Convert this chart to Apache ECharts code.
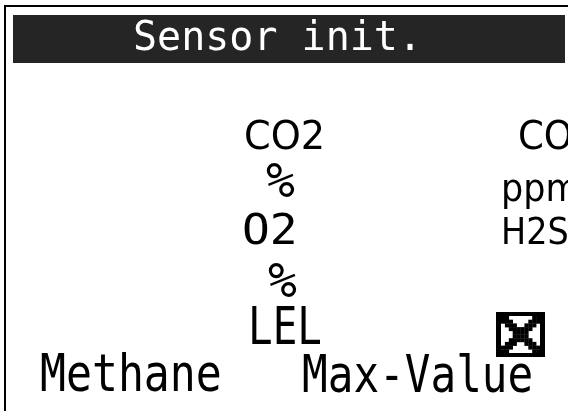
<!DOCTYPE html>
<html>
<head>
<meta charset="utf-8">
<script src="https://cdn.jsdelivr.net/npm/echarts@6/dist/echarts.min.js"></script>
<style>
  html, body { margin: 0; padding: 0; background: #fff; }
  #main { width: 568px; height: 411px; }
</style>
</head>
<body>
<div id="main"></div>
<script>
// screen texts
const title = 'Sensor init.';
const leftColumn = ['CO2', '%', 'O2', '%', 'LEL'];
const rightColumn = ['CO', 'ppm', 'H2S'];
const footer = ['Methane', 'Max-Value'];
const maxValueChecked = true;

const MONO = '"DejaVu Sans Mono", monospace';
const SANS = '"DejaVu Sans", sans-serif';

// layout for each text (x = left edge, y = cap middle)
const leftLayout = [
    { x: 244, y: 139, size: 39, sx: 0.98, sy: 1.0, font: SANS },
    { x: 266, y: 185, size: 48, sx: 1.0, sy: 1.0, font: MONO },
    { x: 242, y: 233, size: 42, sx: 1.1, sy: 1.0, font: MONO },
    { x: 268, y: 285, size: 48, sx: 1.0, sy: 1.0, font: MONO },
    { x: 248, y: 331, size: 44, sx: 0.93, sy: 1.17, font: MONO }
];
const rightLayout = [
    { x: 518, y: 139, size: 39, sx: 0.95, sy: 1.0, font: SANS },
    { x: 501, y: 191, size: 38, sx: 0.92, sy: 1.0, font: SANS },
    { x: 501, y: 234, size: 38, sx: 0.88, sy: 1.0, font: SANS }
];
const footerLayout = [
    { x: 40, y: 378, size: 44, sx: 0.98, sy: 1.17, font: MONO },
    { x: 302, y: 379, size: 44, sx: 0.97, sy: 1.17, font: MONO }
];

function textEl(str, l) {
    return {
        type: 'text',
        x: l.x,
        y: l.y,
        scaleX: l.sx,
        scaleY: l.sy,
        style: {
            text: str,
            font: l.size + 'px ' + l.font,
            fill: '#000',
            align: 'left',
            verticalAlign: 'middle',
            textAlign: 'left',
            textVerticalAlign: 'middle'
        }
    };
}

// pixel style check box
function checkBox(x, y, w, h, checked) {
    const els = [
        { type: 'rect', shape: { x: x, y: y, width: w, height: h }, style: { fill: '#000' } },
        { type: 'rect', shape: { x: x + 5, y: y + 4, width: w - 10, height: h - 8 }, style: { fill: '#fff' } }
    ];
    if (checked) {
        const n = 10;
        const cw = (w - 10) / n, ch = (h - 8) / n;
        for (let r = 0; r < n; r++) {
            for (let c = 0; c < n; c++) {
                if (Math.abs(c - r) <= 1 || Math.abs(c - (n - 1 - r)) <= 1) {
                    els.push({
                        type: 'rect',
                        shape: { x: x + 5 + c * cw, y: y + 4 + r * ch, width: cw + 0.3, height: ch + 0.3 },
                        style: { fill: '#000' }
                    });
                }
            }
        }
    }
    return els;
}

let chart = echarts.init(document.getElementById('main'));

let elements = [
    // frame
    { type: 'rect', shape: { x: 4, y: 5, width: 564, height: 2 }, style: { fill: '#000' } },
    { type: 'rect', shape: { x: 4, y: 5, width: 2, height: 406 }, style: { fill: '#000' } },
    // header bar
    { type: 'rect', shape: { x: 13, y: 15, width: 552, height: 48 }, style: { fill: '#252525' } },
    {
        type: 'text', x: 133, y: 40,
        style: {
            text: title, font: '40px ' + MONO, fill: '#fff',
            align: 'left', verticalAlign: 'middle', textAlign: 'left', textVerticalAlign: 'middle'
        }
    }
];

leftColumn.forEach(function (s, i) { elements.push(textEl(s, leftLayout[i])); });
rightColumn.forEach(function (s, i) { elements.push(textEl(s, rightLayout[i])); });
footer.forEach(function (s, i) { elements.push(textEl(s, footerLayout[i])); });
elements = elements.concat(checkBox(496, 312, 49, 45, maxValueChecked));

chart.setOption({
    animation: false,
    graphic: { elements: elements }
});
</script>
</body>
</html>
